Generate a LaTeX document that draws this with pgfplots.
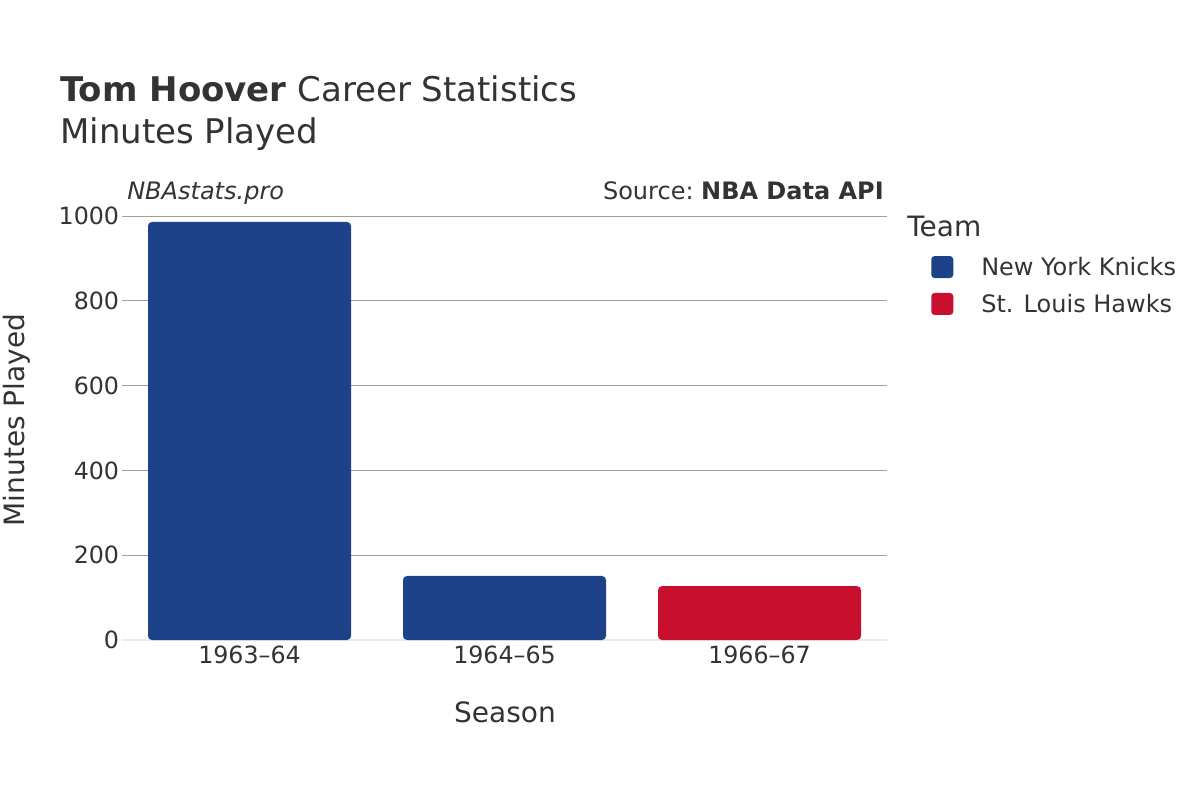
\documentclass[border=0pt]{standalone}
\usepackage{fontspec}
\setmainfont{DejaVu Sans}
\usepackage{pgfplots}
\pgfplotsset{compat=1.18}
\definecolor{knicks}{HTML}{1D428A}
\definecolor{hawks}{HTML}{C8102E}
\definecolor{txt}{HTML}{333333}
\definecolor{gridc}{HTML}{A0A0A0}
\definecolor{zeroc}{HTML}{EBEBEB}
\begin{document}
\begin{tikzpicture}[x=0.75pt,y=-0.75pt]
\useasboundingbox[fill=white] (0,0) rectangle (1200,800);

% titles
\node[anchor=base west, inner sep=0pt, text=txt, font=\fontsize{25.5}{30}\selectfont] at (60,101) {\textbf{Tom Hoover} Career Statistics};
\node[anchor=base west, inner sep=0pt, text=txt, font=\fontsize{25.5}{30}\selectfont] at (60,143) {Minutes Played};
\node[anchor=base west, inner sep=0pt, text=txt, font=\fontsize{18}{21}\selectfont\itshape] at (127,199) {NBAstats.pro};
\node[anchor=base east, inner sep=0pt, text=txt, font=\fontsize{18}{21}\selectfont] at (884,199) {Source:~\textbf{NBA Data API}};

\begin{axis}[
    at={(91.5pt,-480pt)}, anchor=south west,
    scale only axis,
    width=573.75pt, height=318pt,
    xmin=-0.5, xmax=2.5,
    ymin=0, ymax=1000,
    axis line style={draw=none},
    major tick length=0pt,
    xtick={0,1,2},
    xticklabels={1963--64, 1964--65, 1966--67},
    ytick={0,200,400,600,800,1000},
    ymajorgrids,
    grid style={gridc, line width=0.75pt},
    tick label style={font=\fontsize{17.8}{21}\selectfont, text=txt},
    yticklabel style={inner sep=2pt},
    xticklabel style={inner sep=4pt},
    /pgf/number format/assume math mode=true,
    /pgf/number format/1000 sep={},
    legend style={at={(1,1)}, anchor=north west, xshift=33pt, yshift=-28.5pt,
        draw=none, fill=none, inner sep=0pt,
        font=\fontsize{18}{21}\selectfont, text=txt,
        row sep=8.5pt,
        /tikz/every odd column/.append style={column sep=19pt}},
    legend cell align=left,
]
\draw[zeroc, line width=2.25pt] (axis cs:-0.5,0) -- (axis cs:2.5,0);

% New York Knicks
\addplot[ybar, bar width=152.25pt, bar shift=0pt, fill=knicks, draw=none, rounded corners=3pt,
    legend image code/.code={\fill[knicks, rounded corners=2.5pt] (0pt,-8.25pt) rectangle (16.5pt,8.25pt);}]
    coordinates {(0,986) (1,151)};
\addlegendentry{New York Knicks}

% St. Louis Hawks
\addplot[ybar, bar width=152.25pt, bar shift=0pt, fill=hawks, draw=none, rounded corners=3pt,
    legend image code/.code={\fill[hawks, rounded corners=2.5pt] (0pt,-8.25pt) rectangle (16.5pt,8.25pt);}]
    coordinates {(2,127)};
\addlegendentry{St. Louis Hawks}
\end{axis}

\node[anchor=base west, inner sep=0pt, text=txt, font=\fontsize{21}{25}\selectfont] at (907,236) {Team};
\node[anchor=center, inner sep=0pt, text=txt, font=\fontsize{21}{25}\selectfont] at (505,712) {Season};
\node[anchor=center, rotate=90, inner sep=0pt, text=txt, font=\fontsize{21}{25}\selectfont] at (17,420) {Minutes Played};
\end{tikzpicture}
\end{document}
